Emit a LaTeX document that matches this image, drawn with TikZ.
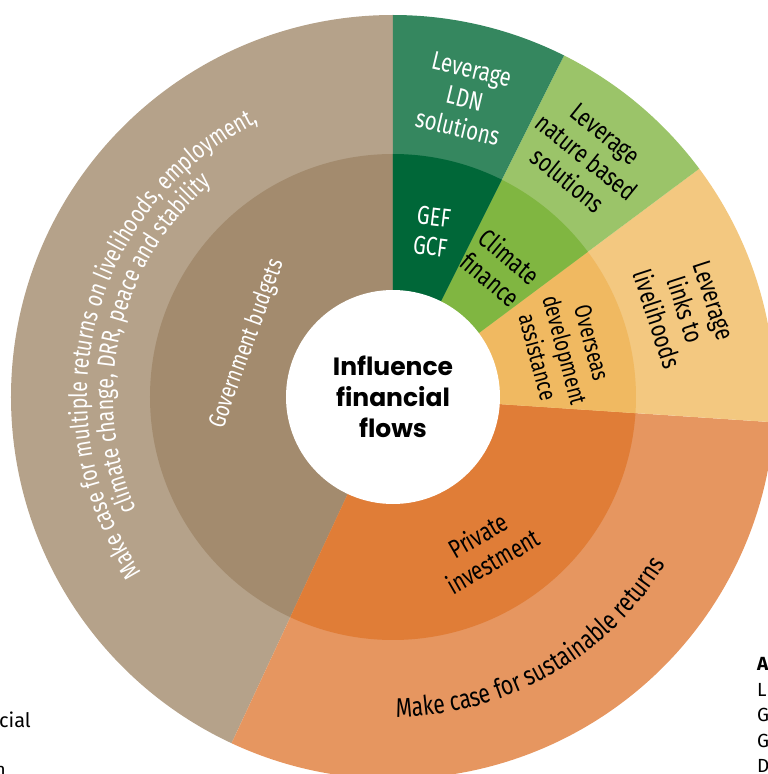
\documentclass[tikz,border=0pt]{standalone}
\usepackage{fontspec}
\setmainfont{Fira Sans}[FakeStretch=0.78]
\newfontfamily\hubfont{Poppins}
\newfontfamily\edgefont{Fira Sans}
\usetikzlibrary{decorations.text}
\definecolor{govout}{HTML}{B5A28A}
\definecolor{govin}{HTML}{A38B6E}
\definecolor{privout}{HTML}{E69660}
\definecolor{privin}{HTML}{E07D37}
\definecolor{odaout}{HTML}{F3C880}
\definecolor{odain}{HTML}{F0B961}
\definecolor{cfout}{HTML}{9BC469}
\definecolor{cfin}{HTML}{80B641}
\definecolor{gefout}{HTML}{35875F}
\definecolor{gefin}{HTML}{006738}
\newcommand\lblfont{\fontsize{26}{30}\selectfont}
\newcommand\smallfont{\fontsize{24}{28}\selectfont}
\newcommand\arcfont{\fontsize{25}{29}\selectfont}
\newcommand\botfont{\fontsize{27}{31}\selectfont}

\begin{document}
\begin{tikzpicture}[x=1pt,y=1pt,
    lbl/.style={align=center,font=\lblfont,inner sep=0pt},
    edge/.style={font=\edgefont\fontsize{19}{23}\selectfont,inner sep=0pt}]
    \useasboundingbox (-393,-377) rectangle (375,397);
    % rings: outer wedge, then inner wedge
    \foreach \a/\b/\co/\ci in {90/245/govout/govin,245/356.2/privout/privin,-3.8/36.7/odaout/odain,36.7/63.4/cfout/cfin,63.4/90/gefout/gefin}{
        \fill[\co] (0,0)--(\a:382) arc[start angle=\a,end angle=\b,radius=382]--cycle;
        \fill[\ci] (0,0)--(\a:243) arc[start angle=\a,end angle=\b,radius=243]--cycle;
    }
    \node[circle,fill=white,minimum size=214,inner sep=0pt,align=center,
        font=\hubfont\bfseries\fontsize{25}{31}\selectfont] (hub) at (0,0) {Influence\\financial\\flows};
    % inner ring
    \node[lbl,white,rotate=-7] (gef) at (76.7:170) {GEF\\GCF};
    \node[lbl,rotate=-40] (climate) at (50.3:168) {Climate\\finance};
    \node[lbl,font=\smallfont,rotate=-75] (oda) at (15.3:178) {Overseas\\development\\assistance};
    \node[lbl,rotate=30] (private) at (-58.6:177) {Private\\investment};
    \node[lbl,font=\smallfont,white,rotate=70] (gov) at (160:155) {Government budgets};
    % outer ring
    \node[lbl,white,rotate=-13.5] (ldn) at (76.5:307) {Leverage\\LDN\\solutions};
    \node[lbl,rotate=-39] (nbs) at (51.1:308) {Leverage\\nature based\\solutions};
    \node[lbl,rotate=-72] (liv) at (16.6:305) {Leverage\\links to\\livelihoods};
    \path[decorate,decoration={text along path,text align=center,text color=white,
        text={|\arcfont|Make case for multiple returns on livelihoods, employment,}}]
        (265.5:306) arc[start angle=265.5,end angle=65.5,radius=306];
    \path[decorate,decoration={text along path,text align=center,text color=white,
        text={|\arcfont|climate change, DRR, peace and stability}}]
        (267:280) arc[start angle=267,end angle=67,radius=280];
    \path[decorate,decoration={text along path,text align=center,
        text={|\botfont|Make case for sustainable returns}}]
        (-120.5:320) arc[start angle=-120.5,end angle=-0.5,radius=320];
    % cut-off text at the page edges
    \node[edge,font=\edgefont\fontsize{20}{24}\selectfont,anchor=base east] (cial) at (-362,-330) {cial};
    \node[edge,anchor=north east] (frag) at (-387,-369) {n};
    \foreach \t/\y [count=\k] in {{\bfseries A}/-273,L/-299,G/-324,G/-350,D/-375}{
        \node[edge,anchor=base west] (abbr\k) at (364,\y) {\t};
    }
\end{tikzpicture}
\end{document}
